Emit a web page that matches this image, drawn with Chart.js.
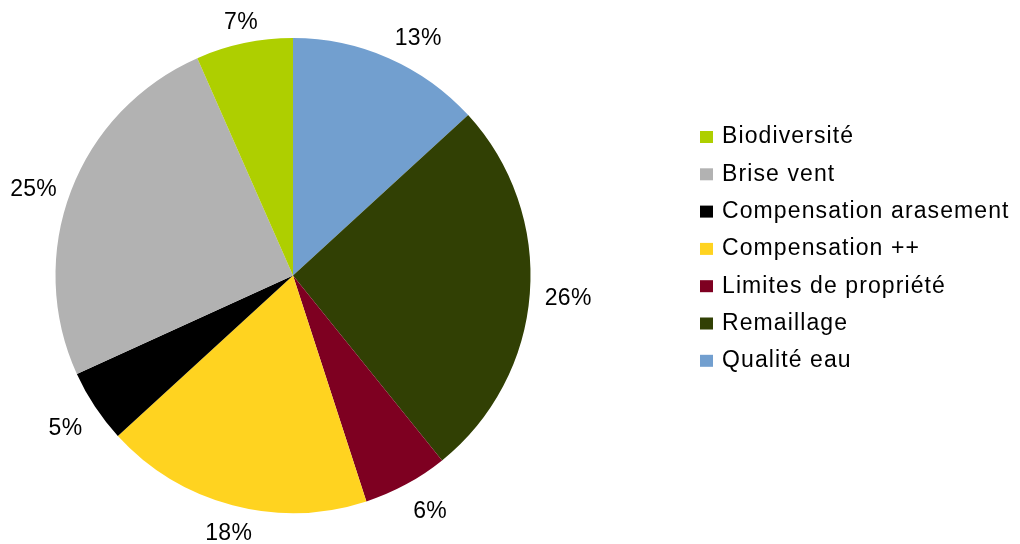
<!DOCTYPE html>
<html lang="fr">
<head>
<meta charset="utf-8">
<title>Répartition</title>
<script src="https://cdn.jsdelivr.net/npm/chart.js@4.4.1/dist/chart.umd.min.js"></script>
<style>
    body { margin: 0; background: #ffffff; }
    #wrap { width: 1020px; height: 544px; }
</style>
</head>
<body>
<div id="wrap"><canvas id="pieChart" width="1020" height="544"></canvas></div>
<script>
// Données (ordre horaire à partir de midi), parts estimées d'après les angles
const categories = ['Qualité eau', 'Remaillage', 'Limites de propriété', 'Compensation ++', 'Compensation arasement', 'Brise vent', 'Biodiversité'];
const shares = [13.2, 26, 5.8, 18.2, 5, 25.2, 6.6];
const colors = ['#729fcf', '#314004', '#7e0021', '#ffd320', '#000000', '#b2b2b2', '#aecf00'];

const FONT = '"Liberation Sans", Arial, sans-serif';

// Étiquettes en pourcentage, à l'extérieur, alignées selon le secteur (comme LibreOffice)
const outsideLabels = {
    id: 'outsideLabels',
    afterDraw(chart) {
        const ctx = chart.ctx;
        const meta = chart.getDatasetMeta(0);
        const total = shares.reduce((a, b) => a + b, 0);
        ctx.save();
        ctx.font = '23px ' + FONT;
        ctx.letterSpacing = '0.3px';
        ctx.fillStyle = '#000000';
        ctx.textAlign = 'center';
        ctx.textBaseline = 'middle';
        meta.data.forEach((arc, i) => {
            const p = arc.getProps(['x', 'y', 'startAngle', 'endAngle', 'outerRadius'], true);
            const mid = (p.startAngle + p.endAngle) / 2;
            const txt = Math.round(shares[i] / total * 100) + '%';
            const halfW = ctx.measureText(txt).width / 2;
            const halfH = 10;
            const c = Math.cos(mid), s = Math.sin(mid);
            // secteurs de 45° : alignement gauche/centre/droite et haut/milieu/bas
            const sector = Math.round(Math.atan2(s, c) / (Math.PI / 4));
            const sx = Math.round(Math.cos(sector * Math.PI / 4));
            const sy = Math.round(Math.sin(sector * Math.PI / 4));
            const d = p.outerRadius + 15;
            ctx.fillText(txt, p.x + c * d + sx * halfW, p.y + s * d + sy * halfH + 4);
        });
        ctx.restore();
    }
};

// Légende dessinée à droite (ordre inverse des données)
const sideLegend = {
    id: 'sideLegend',
    afterDraw(chart) {
        const ctx = chart.ctx;
        const labels = chart.data.labels.slice().reverse();
        const cols = chart.data.datasets[0].backgroundColor.slice().reverse();
        ctx.save();
        ctx.font = '23px ' + FONT;
        ctx.letterSpacing = '1.1px';
        ctx.textAlign = 'left';
        ctx.textBaseline = 'middle';
        labels.forEach((lab, i) => {
            const y = 136 + i * 37.3;
            ctx.fillStyle = cols[i];
            ctx.fillRect(700, y - 5, 13, 12);
            ctx.fillStyle = '#000000';
            ctx.fillText(lab, 722, y + 1);
        });
        ctx.restore();
    }
};

const pieChart = new Chart(document.getElementById('pieChart'), {
    type: 'pie',
    data: {
        labels: categories,
        datasets: [{
            data: shares,
            backgroundColor: colors,
            borderWidth: 0
        }]
    },
    options: {
        responsive: false,
        animation: false,
        layout: {
            padding: { left: 55, right: 489, top: 38, bottom: 31 }
        },
        plugins: {
            legend: { display: false },
            tooltip: { enabled: false }
        }
    },
    plugins: [outsideLabels, sideLegend]
});
</script>
</body>
</html>
